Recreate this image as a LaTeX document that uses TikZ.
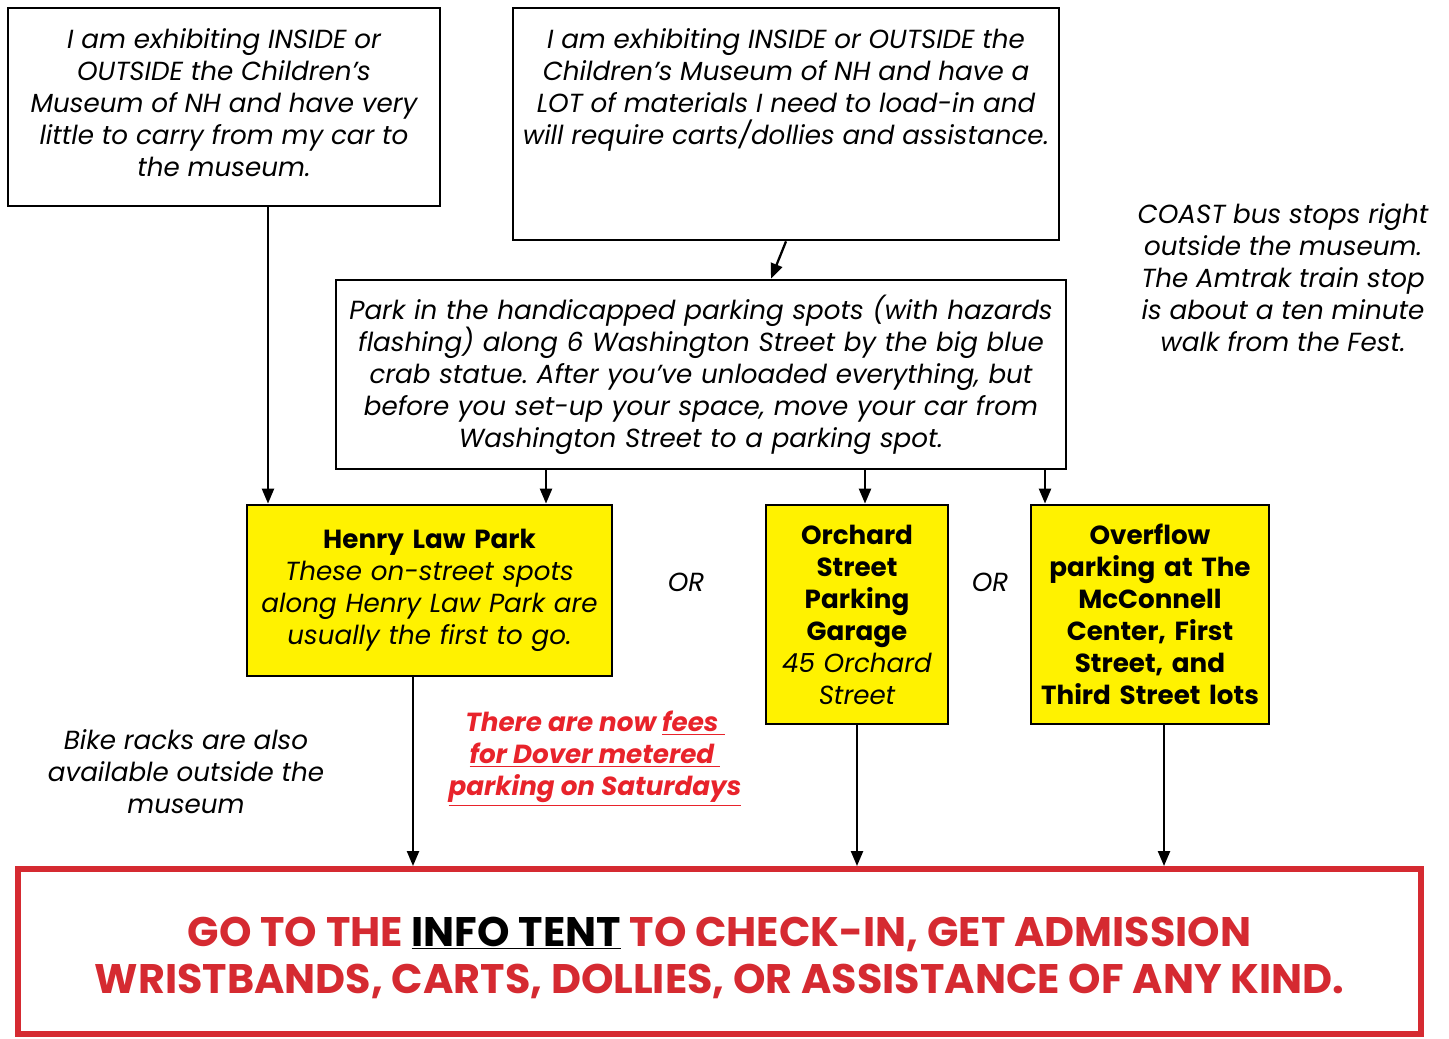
\documentclass[tikz,border=0pt]{standalone}
\usepackage{fontspec}
\setmainfont{Poppins}
\usepackage{xcolor}
\usepackage{tikz}
\usetikzlibrary{arrows.meta}
\definecolor{ParkYellow}{HTML}{FFF200}
\definecolor{TentRed}{HTML}{D52A31}
\definecolor{FeeRed}{HTML}{E8232B}
\frenchspacing

\begin{document}
\begin{tikzpicture}[x=0.02cm, y=-0.02cm,
    every node/.style={font=\fontsize{14.9}{18.2}\selectfont},
    plainbox/.style={draw, line width=1.6pt, inner sep=0pt, align=center},
    parkbox/.style={plainbox, fill=ParkYellow},
    link/.style={-{Triangle[length=3mm,width=2.4mm]}, line width=1.3pt}]
  \useasboundingbox (0,0) rectangle (1449,1038);

  \node[plainbox, minimum width=8.64cm, minimum height=3.96cm] (loca) at (224,107)
    {\parbox[c][3.6cm][c]{8.5cm}{\centering\itshape\vspace*{-0.16cm}I am exhibiting INSIDE or\\ OUTSIDE the Children's\\ Museum of NH and have very\\ little to carry from my car to\\ the museum.}};
  \node[plainbox, minimum width=10.92cm, minimum height=4.64cm] (locb) at (786,124)
    {\parbox[c][3.82cm][t]{10.8cm}{\centering\itshape I am exhibiting INSIDE or OUTSIDE the\\ Children's Museum of NH and have a\\ LOT of materials I need to load-in and\\ will require carts/dollies and assistance.}};
  \node[plainbox, minimum width=14.6cm, minimum height=3.78cm, text width=14.5cm] (park) at (701,374.5)
    {\itshape Park in the handicapped parking spots (with hazards\\ flashing) along 6 Washington Street by the big blue\\ crab statue. After you've unloaded everything, but\\ before you set-up your space, move your car from\\ Washington Street to a parking spot.};
  \node[align=center, font=\fontsize{14.9}{18.2}\selectfont\itshape] (coast) at (1283,278)
    {COAST bus stops right\\ outside the museum.\\ The Amtrak train stop\\ is about a ten minute\\ walk from the Fest.};

  \node[parkbox, minimum width=7.3cm, minimum height=3.42cm, text width=7.2cm] (henry) at (429.5,590.5)
    {\textbf{Henry Law Park}\\ \itshape These on-street spots\\ along Henry Law Park are\\ usually the first to go.};
  \node[parkbox, minimum width=3.64cm, minimum height=4.38cm, text width=3.55cm] (orchard) at (857,614.5)
    {\textbf{Orchard\\ Street\\ Parking\\ Garage}\\ \itshape 45 Orchard\\ Street};
  \node[parkbox, minimum width=4.76cm, minimum height=4.38cm, text width=4.7cm] (overflow) at (1150,614.5)
    {\bfseries Overflow\\ parking at The\\ McConnell\\ Center, First\\ Street, and\\ Third Street lots};
  \node[font=\fontsize{14.9}{18.2}\selectfont\itshape] (or1) at (686,582) {OR};
  \node[font=\fontsize{14.9}{18.2}\selectfont\itshape] (or2) at (990,582) {OR};

  \node[align=center, text=FeeRed, font=\fontsize{14.9}{18.2}\selectfont\bfseries\itshape] (fees) at (595,759)
    {There are now \underline{fees\ }\\ \underline{for Dover metered\ }\\ \underline{parking on Saturdays}};
  \node[align=center, font=\fontsize{14.9}{18.2}\selectfont\itshape] (bike) at (186,772)
    {Bike racks are also\\ available outside the\\ museum};

  \node[draw=TentRed, line width=3.4pt, inner sep=0pt, minimum width=28.06cm, minimum height=3.3cm,
        text=TentRed, font=\fontsize{23.5}{26.7}\selectfont\bfseries] (info) at (719.5,951.5)
    {\parbox[c][3cm][c]{27.5cm}{\centering\vspace*{0.24cm}GO TO THE \textcolor{black}{\underline{INFO TENT}} TO CHECK-IN, GET ADMISSION\\ WRISTBANDS, CARTS, DOLLIES, OR ASSISTANCE OF ANY KIND.}};

  \draw[link] ([xshift=0.88cm]loca.south) -- ([xshift=0.88cm]loca.south |- henry.north);
  \draw[link] (locb.south) -- ([xshift=-0.3cm]locb.south |- park.north);
  \foreach \x/\dst in {546/henry, 865/orchard, 1045/overflow}
    \draw[link] (park.south -| \x,0) -- (\dst.north -| \x,0);
  \foreach \x/\src in {413/henry, 857/orchard, 1164/overflow}
    \draw[link] (\src.south -| \x,0) -- (info.north -| \x,0);
\end{tikzpicture}
\end{document}
